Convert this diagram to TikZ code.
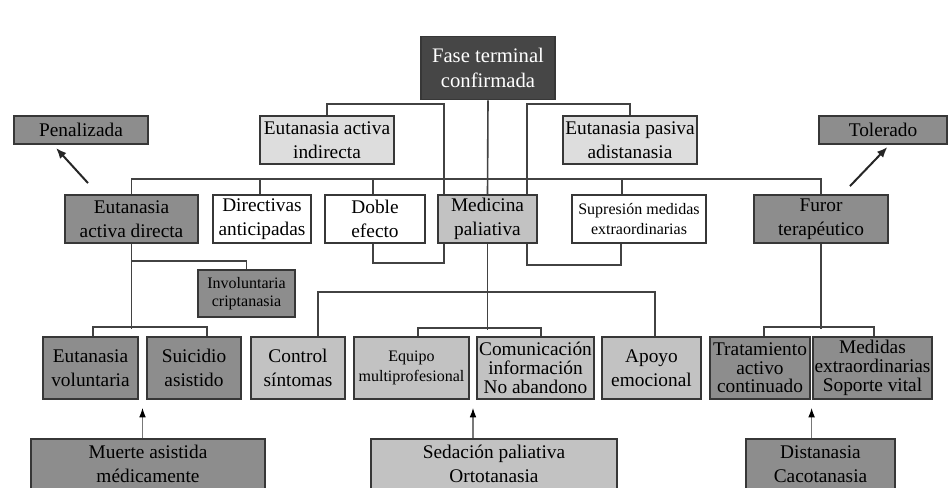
\documentclass[tikz,border=0pt]{standalone}
\usepackage{fontspec}
\setmainfont{Liberation Serif}
\usetikzlibrary{
  arrows.meta,
  positioning,
  calc,
  backgrounds
}
\definecolor{TerminalDark}{RGB}{70,70,70}
\definecolor{LawGray}{RGB}{141,141,141}
\definecolor{CareGray}{RGB}{194,194,194}
\definecolor{PaleGray}{RGB}{221,221,221}
\definecolor{LineGray}{RGB}{66,66,66}
\definecolor{EdgeGray}{RGB}{55,55,55}
\definecolor{LiftGray}{RGB}{120,120,120}
\tikzset{
  wh/.style 2 args={minimum width=#1*0.75pt,minimum height=#2*0.75pt},
  basebox/.style={draw=EdgeGray,line width=1.4pt,align=center,inner sep=1pt,font=\fontsize{14.5}{18}\selectfont},
  rootnode/.style={basebox,fill=TerminalDark,text=white,font=\fontsize{15.5}{19}\selectfont},
  lawnode/.style={basebox,fill=LawGray},
  carenode/.style={basebox,fill=CareGray},
  palenode/.style={basebox,fill=PaleGray},
  plainnode/.style={basebox,fill=white,line width=1pt},
  smalltext/.style={font=\fontsize{12}{15}\selectfont},
  tighttext/.style={font=\fontsize{14.5}{14}\selectfont},
  link/.style={draw=LineGray,line width=1.2pt},
  leadarrow/.style={-{Latex[length=8pt,width=6.5pt]},line width=1.5pt,draw=black!85},
  liftarrow/.style={-{Latex[length=7pt,width=5pt,color=black]},line width=0.8pt,draw=LiftGray}
}

\begin{document}
\begin{tikzpicture}[x=0.75pt,y=-0.75pt]
\useasboundingbox (0,0) rectangle (949,487);
% top levels
\node[rootnode,wh={134}{63}] (fase) at (488,68) {Fase terminal\\confirmada};
\node[lawnode,wh={134}{28}] (penal) at (81,130) {Penalizada};
\node[palenode,wh={134}{48}] (eaind) at (327,140) {Eutanasia activa\\indirecta};
\node[palenode,wh={134}{48}] (epas) at (630,140) {Eutanasia pasiva\\adistanasia};
\node[lawnode,wh={128}{28}] (toler) at (883,130) {Tolerado};
% middle row
\node[lawnode,wh={133}{48}] (ead) at (131.5,219) {Eutanasia\\activa directa};
\node[plainnode,wh={98}{48}] (dir) at (262,219) {Directivas\\anticipadas};
\node[plainnode,wh={100}{48}] (doble) at (375,219) {Doble\\efecto};
\node[carenode,wh={99}{48}] (medpal) at (487.5,219) {Medicina\\paliativa};
\node[plainnode,wh={134}{48},smalltext] (supr) at (639,219) {Supresión medidas\\extraordinarias};
\node[lawnode,wh={134}{48}] (furor) at (821,219) {Furor\\terapéutico};
\node[lawnode,wh={97}{47},font=\fontsize{12}{13}\selectfont] (invol) at (246.5,293.5) {Involuntaria\\criptanasia};
% bottom row
\node[lawnode,wh={95}{62}] (evol) at (90.5,368) {Eutanasia\\voluntaria};
\node[lawnode,wh={94}{62}] (suic) at (194,368) {Suicidio\\asistido};
\node[carenode,wh={94}{62}] (ctrl) at (298,368) {Control\\síntomas};
\node[carenode,wh={115}{62},smalltext] (equipo) at (411.5,368) {Equipo\\multiprofesional};
\node[carenode,wh={117}{62},tighttext] (comun) at (535.5,368) {Comunicación\\información\\No abandono};
\node[carenode,wh={99}{62}] (apoyo) at (651.5,368) {Apoyo\\emocional};
\node[lawnode,wh={100}{62},tighttext] (trat) at (760,368) {Tratamiento\\activo\\continuado};
\node[lawnode,wh={111}{62},tighttext] (medidas) at (872.5,368) {Medidas\\extraordinarias\\Soporte vital};
% labels at the foot
\node[lawnode,wh={234}{50}] (muerte) at (148,464) {Muerte asistida\\médicamente};
\node[carenode,wh={246}{50}] (sedac) at (494,464) {Sedación paliativa\\Ortotanasia};
\node[lawnode,wh={149}{50}] (dist) at (820.5,464) {Distanasia\\Cacotanasia};

\begin{scope}[on background layer]
\draw[link] (fase.south) -- (medpal.north);
\draw[link] (ead.north) -- ++(0,-15) -| (furor.north);
\foreach \n/\dx in {dir/-2,doble/-2,supr/-17}
  \draw[link] ($(\n.north)+(\dx,0)$) -- ++(0,-15);
\draw[link] (eaind.north) -- ++(0,-11) -| ($(medpal.south west)+(7,19)$) -| ($(doble.south)+(-2,0)$);
\draw[link] (epas.north) -- ++(0,-11) -| ($(medpal.south east)+(-11,21)$) -| ($(supr.south)+(-18,0)$);
% paliativa branch
\draw[link] (medpal.south) -- ++(0,86);
\draw[link] ($(ctrl.north)+(20,0)$) -- ++(0,-44) -| ($(apoyo.north)+(3.5,0)$);
\draw[link] ($(equipo.north)+(6.5,0)$) -- ++(0,-8) -| ($(comun.north)+(5.5,0)$);
% directa branch
\draw[link] (ead.south) -- ++(0,85);
\draw[link] (ead.south) ++(0,17) -| (invol.north);
\draw[link] ($(evol.north)+(2.5,0)$) -- ++(0,-9) -| ($(suic.north)+(13,0)$);
% furor branch
\draw[link] (furor.south) -- ++(0,85);
\draw[link] ($(trat.north)+(4,0)$) -- ++(0,-9) -| ($(medidas.north)+(1.5,0)$);
\end{scope}

\draw[leadarrow] ($(ead.north)+(-43.5,-11)$) -- ($(penal.south)+(-25,3)$);
\draw[leadarrow] ($(furor.north)+(29,-8)$) -- ($(toler.south)+(4.5,2)$);
\coordinate (gapL) at ($(evol.south east)!.5!(suic.south west)$);
\coordinate (gapM) at ($(equipo.south east)!.5!(comun.south west)$);
\coordinate (gapR) at ($(trat.south east)!.5!(medidas.south west)$);
\foreach \g/\b in {gapL/muerte,gapM/sedac,gapR/dist}
  \draw[liftarrow] (\b.north -| \g) -- ($(\g)+(0,8)$);
\end{tikzpicture}
\end{document}
